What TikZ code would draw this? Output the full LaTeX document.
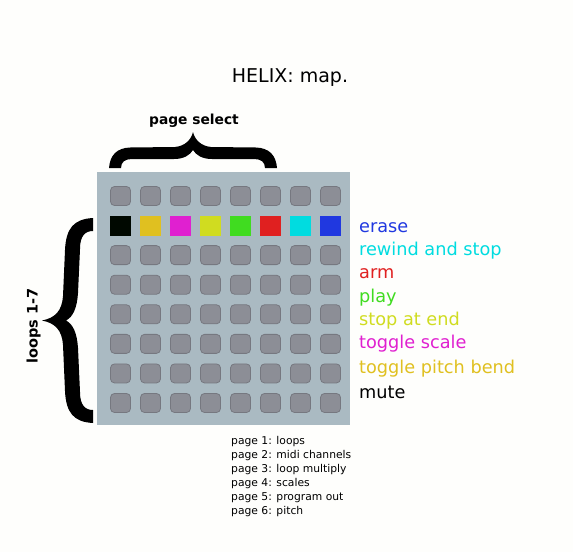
\documentclass[tikz,border=0pt]{standalone}
\usepackage{fontspec}
\setmainfont{DejaVu Sans}
\definecolor{bgc}{RGB}{254,254,252}
\definecolor{panel}{RGB}{170,186,194}
\definecolor{btnfill}{RGB}{140,142,150}
\definecolor{btnedge}{RGB}{118,120,128}
\definecolor{cblack}{RGB}{0,8,0}
\definecolor{cgold}{RGB}{224,192,32}
\definecolor{cmagenta}{RGB}{224,32,208}
\definecolor{clime}{RGB}{208,220,32}
\definecolor{cgreen}{RGB}{64,220,32}
\definecolor{cred}{RGB}{224,32,32}
\definecolor{ccyan}{RGB}{0,220,224}
\definecolor{cblue}{RGB}{32,56,224}
\begin{document}
\begin{tikzpicture}[x=1pt,y=-1pt,
  btn/.style={draw=btnedge, fill=btnfill, rounded corners=4pt, line width=0.8pt,
    minimum width=20pt, minimum height=19pt, inner sep=0pt, outer sep=0pt},
  pad/.style={minimum width=21pt, minimum height=20pt, inner sep=0pt, outer sep=0pt},
  lbl/.style={anchor=base west, inner sep=0pt, font=\fontsize{17.7}{20}\selectfont},
  pagetxt/.style={anchor=base west, inner sep=0pt, font=\fontsize{10.75}{14}\selectfont},
  bracefill/.style={fill=black}]
\useasboundingbox (0,0) rectangle (573,552);
\fill[bgc] (0,0) rectangle (573,552);

% title
\node[anchor=base, inner sep=0pt, font=\fontsize{19}{22}\selectfont] (title) at (290,82) {HELIX: map.};

% panel
\fill[panel] (97,172) rectangle (350,425);
\node[inner sep=0pt, outer sep=0pt, minimum width=253pt, minimum height=253pt] (panelnode) at (223.5,298.5) {};

% buttons
\foreach \r in {0,...,7}{
  \foreach \c in {0,...,7}{
    \ifnum\r=1\relax\else
      \node[btn] (b\r-\c) at ({120.5+30*\c},{196+29.57*\r}) {};
    \fi
  }
}
% coloured pads
\foreach \c/\col in {0/cblack,1/cgold,2/cmagenta,3/clime,4/cgreen,5/cred,6/ccyan,7/cblue}{
  \node[pad, fill=\col] (p\c) at ({120.5+30*\c},225.5) {};
}

% right labels
\node[lbl, text=cblue]    (lerase)  at (359,232.5) {erase};
\node[lbl, text=ccyan]    (lrewind) at (359,255)   {rewind and stop};
\node[lbl, text=cred]     (larm)    at (359,278)   {arm};
\node[lbl, text=cgreen]   (lplay)   at (359,302.5) {play};
\node[lbl, text=clime]    (lstop)   at (359,325)   {stop at end};
\node[lbl, text=cmagenta] (lscale)  at (359,348.5) {toggle scale};
\node[lbl, text=cgold]    (lbend)   at (359,373)   {toggle pitch bend};
\node[lbl, text=black]    (lmute)   at (359,398.5) {mute};

% page list
\node[pagetxt] (pg1) at (231,444) {page 1: loops};
\node[pagetxt] (pg2) at (231,458) {page 2: midi channels};
\node[pagetxt] (pg3) at (231,472) {page 3: loop multiply};
\node[pagetxt] (pg4) at (231,486) {page 4: scales};
\node[pagetxt] (pg5) at (231,500) {page 5: program out};
\node[pagetxt] (pg6) at (231,514) {page 6: pitch};

% top brace
\fill[bracefill] (109,168)
  .. controls (110,155) and (117,148) .. (130,147.5)
  -- (175,147)
  .. controls (185,146) and (191,140) .. (193,132)
  .. controls (195,140) and (201,146) .. (211,147)
  -- (256,147.5)
  .. controls (269,148) and (276,155) .. (277,168)
  -- (265,168)
  .. controls (265,162) and (261,159) .. (254,159)
  -- (212,159)
  .. controls (202,159) and (196,155) .. (193,150)
  .. controls (190,155) and (184,159) .. (174,159)
  -- (132,159)
  .. controls (125,159) and (121,162) .. (121,168)
  -- cycle;
\node[anchor=base, inner sep=0pt, font=\bfseries\fontsize{13.8}{16}\selectfont] (pagesel) at (194,124) {page select};

% left brace
\fill[bracefill] (93,218)
  .. controls (74,219) and (66,228) .. (65,250)
  -- (63,296)
  .. controls (62,311) and (55,318) .. (42,320.5)
  .. controls (55,323) and (62,330) .. (63,345)
  -- (65,391)
  .. controls (66,413) and (74,422) .. (93,423)
  -- (93,410)
  .. controls (85,410) and (80,405) .. (80,392)
  -- (78,348)
  .. controls (77,333) and (73,324) .. (66,320.5)
  .. controls (73,317) and (77,308) .. (78,293)
  -- (80,249)
  .. controls (80,236) and (85,231) .. (93,231)
  -- cycle;
\node[rotate=90, inner sep=0pt, font=\bfseries\fontsize{14.5}{16}\selectfont] (loops) at (33.5,326) {loops 1-7};
\end{tikzpicture}
\end{document}
